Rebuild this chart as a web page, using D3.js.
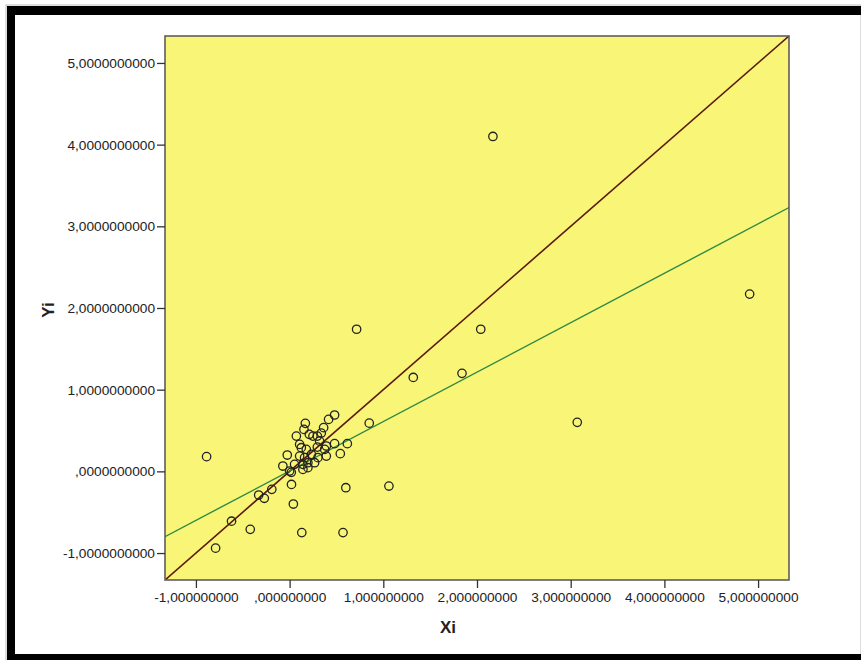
<!DOCTYPE html>
<html>
<head>
<meta charset="utf-8">
<script src="https://cdn.jsdelivr.net/npm/d3@7"></script>
<style>
  html, body { margin: 0; padding: 0; background: #fff; }
  svg { display: block; }
  text { font-family: "Liberation Sans", Arial, sans-serif; }
</style>
</head>
<body>
<svg id="chart" width="861" height="660"></svg>
<script>
// ---- data ----
const xiValues = [2.17, 4.91, 0.715, 2.04, 1.32, 1.84, 3.07, 0.85, -0.886, 1.06, 0.60,
  -0.62, -0.79, -0.42, 0.13, 0.57, 0.04, 0.02, -0.33, -0.27, -0.19,
  0.48, 0.416, 0.363, 0.168, 0.153, 0.072, 0.21, 0.249, 0.296, 0.338,
  0.107, 0.125, 0.178, 0.296, 0.392, 0.374, 0.48, 0.541, 0.616,
  -0.025, 0.107, 0.16, 0.232, 0.302, 0.392, 0.195, 0.142, 0.267, 0.053,
  -0.072, 0.0, 0.142, 0.195, 0.018, 0.32];
const yiValues = [4.10, 2.17, 1.74, 1.74, 1.15, 1.20, 0.60, 0.59, 0.18, -0.18, -0.20,
  -0.61, -0.94, -0.71, -0.75, -0.75, -0.40, -0.16, -0.29, -0.33, -0.22,
  0.69, 0.636, 0.535, 0.588, 0.514, 0.432, 0.453, 0.432, 0.432, 0.469,
  0.33, 0.29, 0.269, 0.297, 0.31, 0.269, 0.339, 0.217, 0.339,
  0.2, 0.187, 0.168, 0.208, 0.168, 0.187, 0.106, 0.086, 0.106, 0.086,
  0.065, 0.004, 0.024, 0.045, -0.012, 0.37];
const axisDomain = [-1.33, 5.33];
const xTickValues = [-1, 0, 1, 2, 3, 4, 5];
const xTickLabels = ["-1,000000000", ",000000000", "1,000000000", "2,000000000", "3,000000000", "4,000000000", "5,000000000"];
const yTickValues = [-1, 0, 1, 2, 3, 4, 5];
const yTickLabels = ["-1,0000000000", ",0000000000", "1,0000000000", "2,0000000000", "3,0000000000", "4,0000000000", "5,0000000000"];
const fitIntercept = 0.005;
const fitSlope = 0.605;
const xTitle = "Xi";
const yTitle = "Yi";

// ---- drawing ----
const svg = d3.select("#chart");
const plot = { left: 165, right: 789, top: 36, bottom: 580 };

// outer frame
svg.append("rect").attr("x", 6).attr("y", 5).attr("width", 855).attr("height", 655)
  .attr("fill", "none").attr("stroke", "#bbb").attr("stroke-width", 1);
svg.append("rect").attr("x", 7).attr("y", 6).attr("width", 854).attr("height", 9).attr("fill", "#000");
svg.append("rect").attr("x", 7).attr("y", 6).attr("width", 8).attr("height", 654).attr("fill", "#000");
svg.append("rect").attr("x", 7).attr("y", 654).attr("width", 854).attr("height", 6).attr("fill", "#000");

const x = d3.scaleLinear().domain(axisDomain).range([plot.left, plot.right]);
const y = d3.scaleLinear().domain(axisDomain).range([plot.bottom, plot.top]);

// background
svg.append("rect")
  .attr("x", plot.left).attr("y", plot.top)
  .attr("width", plot.right - plot.left).attr("height", plot.bottom - plot.top)
  .attr("fill", "#f9f577");

svg.append("clipPath").attr("id", "clip").append("rect")
  .attr("x", plot.left).attr("y", plot.top)
  .attr("width", plot.right - plot.left).attr("height", plot.bottom - plot.top);

const g = svg.append("g").attr("clip-path", "url(#clip)");

// diagonal y = x
g.append("line")
  .attr("x1", x(axisDomain[0])).attr("y1", y(axisDomain[0]))
  .attr("x2", x(axisDomain[1])).attr("y2", y(axisDomain[1]))
  .attr("stroke", "#5a1a10").attr("stroke-width", 1.6);

// fit line
g.append("line")
  .attr("x1", x(axisDomain[0])).attr("y1", y(fitIntercept + fitSlope * axisDomain[0]))
  .attr("x2", x(axisDomain[1])).attr("y2", y(fitIntercept + fitSlope * axisDomain[1]))
  .attr("stroke", "#2f8a45").attr("stroke-width", 1.4);

// points
const pts = xiValues.map((v, i) => ({ x: v, y: yiValues[i] }));
g.selectAll("circle.pt").data(pts).enter().append("circle")
  .attr("class", "pt")
  .attr("cx", d => x(d.x)).attr("cy", d => y(d.y))
  .attr("r", 4.2)
  .attr("fill", "none").attr("stroke", "#222").attr("stroke-width", 1.3);

// plot border
svg.append("rect")
  .attr("x", plot.left).attr("y", plot.top)
  .attr("width", plot.right - plot.left).attr("height", plot.bottom - plot.top)
  .attr("fill", "none").attr("stroke", "#5e5e5e").attr("stroke-width", 1.6);

// axes
const xAxis = d3.axisBottom(x).tickValues(xTickValues)
  .tickFormat((d, i) => xTickLabels[i]).tickSize(8).tickPadding(4);
const xg = svg.append("g").attr("transform", `translate(0,${plot.bottom})`).call(xAxis);
xg.select(".domain").remove();
xg.selectAll(".tick line").attr("stroke", "#333").attr("stroke-width", 1.3);
xg.selectAll(".tick text").attr("font-size", "13.7px").attr("fill", "#222")
  .attr("font-family", "Liberation Sans, Arial, sans-serif");

const yAxis = d3.axisLeft(y).tickValues(yTickValues)
  .tickFormat((d, i) => yTickLabels[i]).tickSize(8).tickPadding(2);
const yg = svg.append("g").attr("transform", `translate(${plot.left},0)`).call(yAxis);
yg.select(".domain").remove();
yg.selectAll(".tick line").attr("stroke", "#333").attr("stroke-width", 1.3);
yg.selectAll(".tick text").attr("font-size", "13.7px").attr("fill", "#222")
  .attr("font-family", "Liberation Sans, Arial, sans-serif");

// titles
svg.append("text").attr("x", (plot.left + plot.right) / 2 - 29).attr("y", 633)
  .attr("text-anchor", "middle").attr("font-size", "17px").attr("font-weight", "bold")
  .attr("fill", "#222").text(xTitle);
svg.append("text")
  .attr("transform", `translate(54,${310}) rotate(-90)`)
  .attr("text-anchor", "middle").attr("font-size", "17px").attr("font-weight", "bold")
  .attr("fill", "#222").text(yTitle);
</script>
</body>
</html>
